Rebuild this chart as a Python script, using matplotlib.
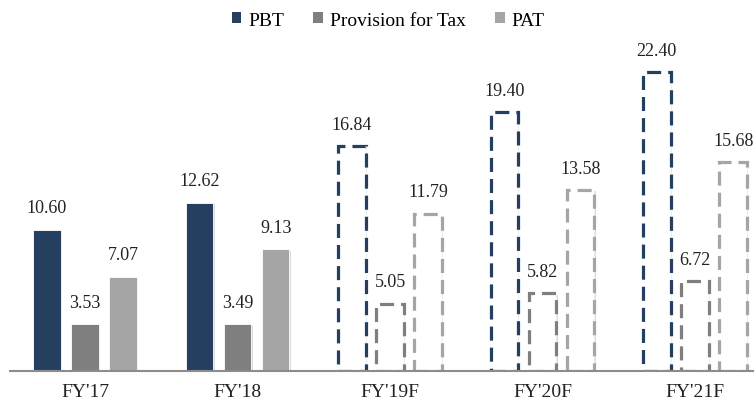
import matplotlib
matplotlib.use('Agg')
import matplotlib.pyplot as plt
import matplotlib.patheffects as pe
from matplotlib.patches import Patch
import numpy as np

plt.rcParams['font.family'] = ['Liberation Serif', 'DejaVu Serif']

# Profit figures by financial year (F = forecast)
years = ["FY'17", "FY'18", "FY'19F", "FY'20F", "FY'21F"]
forecast = [False, False, True, True, True]
series_names = ['PBT', 'Provision for Tax', 'PAT']
pbt = [10.60, 12.62, 16.84, 19.40, 22.40]
provision = [3.53, 3.49, 5.05, 5.82, 6.72]
pat = [7.07, 9.13, 11.79, 13.58, 15.68]

colors = ['#243F60', '#7F7F7F', '#A5A5A5']

fig = plt.figure(figsize=(7.54, 4.06), dpi=100)
ax = fig.add_axes([10 / 754, 34 / 406, 744 / 754, 320 / 406])

x = np.arange(len(years))
width = 0.18
step = 0.25
shadow = [pe.SimplePatchShadow(offset=(1, -1), shadow_rgbFace='#BBBBBB', alpha=0.5), pe.Normal()]

for k, (values, color) in enumerate(zip([pbt, provision, pat], colors)):
    pos = x + (k - 1) * step
    for xi, val, fc in zip(pos, values, forecast):
        if fc:
            # forecast years: dashed outline only
            bar = ax.bar(xi, val, width, facecolor='white', edgecolor=color,
                         linewidth=2.3, linestyle=(0, (4.4, 2.2)), zorder=2)
        else:
            bar = ax.bar(xi, val, width, facecolor=color, edgecolor='white',
                         linewidth=0.6, zorder=2)
        bar[0].set_path_effects(shadow)
        ax.text(xi, val + 1.0, f'{val:.2f}', ha='center', va='bottom',
                fontsize=13, color='#222222')

ax.set_xlim(-0.492, 4.387)
ax.set_ylim(0, 24)
ax.set_xticks(x)
ax.set_xticklabels(years, fontsize=14, color='#222222')
ax.tick_params(axis='x', length=0, pad=9)
ax.set_yticks([])
for side in ['top', 'right', 'left']:
    ax.spines[side].set_visible(False)
ax.spines['bottom'].set_color('#8C8C8C')
ax.spines['bottom'].set_linewidth(1.5)
ax.spines['bottom'].set_zorder(3)

handles = [Patch(facecolor=c, edgecolor='none') for c in colors]
fig.legend(handles, series_names, loc='center', bbox_to_anchor=(388 / 754, 1 - 21 / 406),
           ncol=3, frameon=False, fontsize=14, handlelength=0.5, handleheight=0.5,
           handletextpad=0.35, columnspacing=1.5)

fig.savefig('out.png', dpi=100)
